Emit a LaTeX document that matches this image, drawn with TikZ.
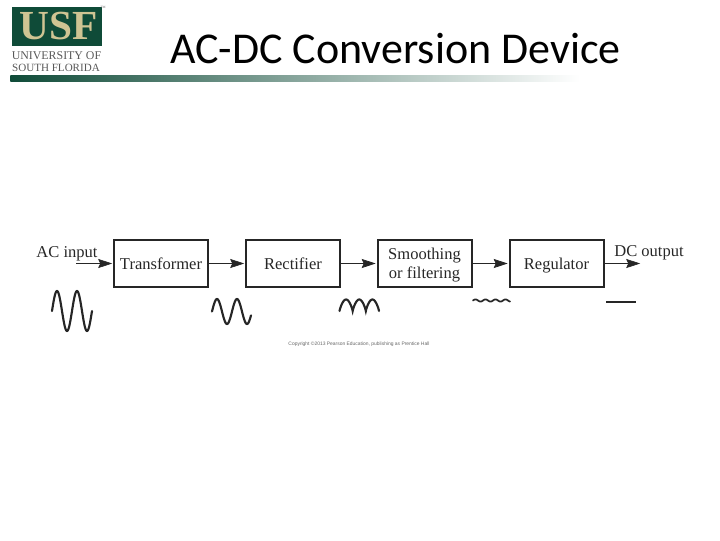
\documentclass[tikz,border=0pt]{standalone}
\usepackage{fontspec}
\setmainfont{Liberation Serif}
\newfontfamily\titlefont{Carlito}
\newfontfamily\smallsans{Liberation Sans}
\usetikzlibrary{arrows.meta}
\definecolor{usfgreen}{HTML}{0F4B38}
\definecolor{usftan}{HTML}{CFC493}
\newcommand{\lowstrut}{\rule{0pt}{11pt}\rule[-2pt]{0pt}{2pt}}
\tikzset{
  blockbox/.style={draw=black!85,line width=1.5pt,minimum width=70.5pt,minimum height=35.5pt,inner sep=0pt,align=center,font=\fontsize{12.4}{14.2}\selectfont,text=black!85},
  link/.style={draw=black!85,line width=0.5pt,-{Stealth[length=10.5pt,width=6.8pt,inset=1.5pt]},shorten >=0.6pt},
  sigtext/.style={inner sep=0pt,font=\fontsize{12.4}{14}\selectfont,text=black!85},
  wave/.style={draw=black!85,line width=1.6pt,line cap=round,smooth},
  logotext/.style={inner sep=0pt,text=black!65}
}
\begin{document}
\begin{tikzpicture}[x=0.75pt,y=-0.75pt]
\useasboundingbox (0,0) rectangle (720,540);
% logo
\node (logobg) [fill=usfgreen,minimum width=67.5pt,minimum height=29.5pt,inner sep=0pt] at (57,26.5) {};
\node (usf) [inner sep=0pt,text=usftan,font=\fontsize{31}{31}\selectfont\bfseries] at (59,26.5) {USF};
\node (tm) [inner sep=0pt,text=black!60,font=\fontsize{2.5}{3}\selectfont] at (103,7.5) {TM};
\node (l1) [logotext,font=\fontsize{8.9}{9}\selectfont] at (56.5,55.5) {UNIVERSITY OF};
\node (l2) [logotext,font=\fontsize{8.3}{9}\selectfont] at (56,68) {SOUTH FLORIDA};
\node (bar) [minimum width=427pt,minimum height=4.5pt,inner sep=0pt,left color=usfgreen,right color=white,middle color=usfgreen!50!white] at (295,78) {};
% title
\node (title) [inner sep=0pt,font=\fontsize{33}{36}\selectfont\titlefont] at (395.5,48.5) {AC-DC Conversion Device};
% blocks
\node (tr) [blockbox] at (161,263.5) {\lowstrut Transformer};
\node (re) [blockbox] at (293,263.5) {\lowstrut Rectifier};
\node (sm) [blockbox] at (424.5,263.5) {\lowstrut Smoothing\\\lowstrut or filtering};
\node (rg) [blockbox] at (556.5,263.5) {\lowstrut Regulator};
\node (acin) [sigtext] at (67,251.5) {\lowstrut AC input};
\node (dcout) [sigtext] at (649,251) {\lowstrut DC output};
\coordinate (instart) at (76,263.5);
\coordinate (outend) at (641,263.5);
\draw[link] (instart) -- (tr.west);
\draw[link] (tr) -- (re);
\draw[link] (re) -- (sm);
\draw[link] (sm) -- (rg);
\draw[link] (rg.east) -- (outend);
% waveforms
\draw[wave,samples=81,domain=52:92] plot (\x,{311-20*sin(18*(\x-52))});
\draw[wave,samples=81,domain=212:251] plot (\x,{311.5-12.5*sin(18*(\x-212))});
\draw[wave,samples=91,domain=339.5:379] plot (\x,{311-11.5*abs(sin(13.67*(\x-339.5)))^0.8});
\draw[wave,line width=1.3pt,samples=81,domain=473:510] plot (\x,{300.5-1.1*sin(36*(\x-473))});
\coordinate (dcl) at (606,302.2);
\coordinate (dcr) at (636,302.2);
\draw[wave,line width=1.9pt,line cap=butt] (dcl) -- (dcr);
% copyright
\node (copy) [inner sep=0pt,text=black!60,font=\fontsize{3.7}{4}\selectfont\smallsans] at (359,344) {Copyright ©2013 Pearson Education, publishing as Prentice Hall};
\end{tikzpicture}
\end{document}
